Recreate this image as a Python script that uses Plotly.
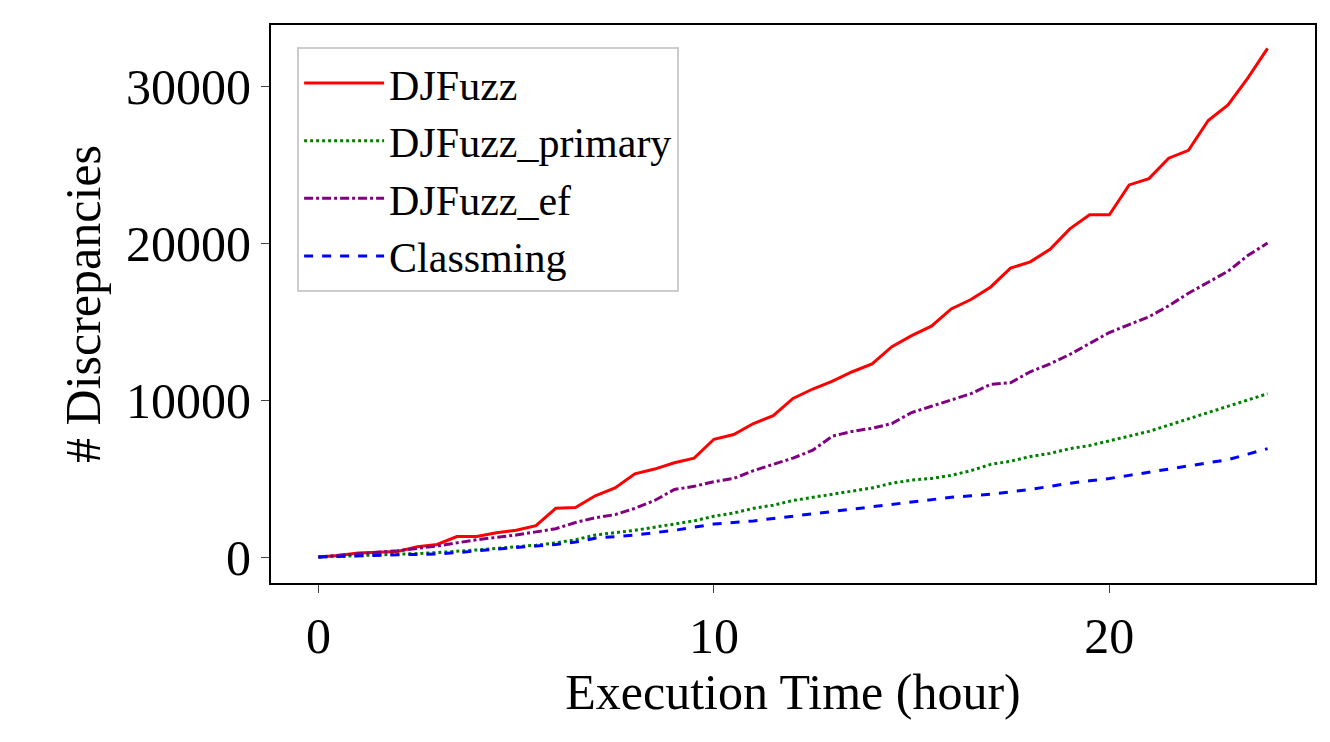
import plotly.graph_objects as go

hours = [i * 0.5 for i in range(49)]

djfuzz = [0, 100, 250, 280, 350, 650, 800, 1300, 1300, 1550, 1700, 2000, 3100, 3150, 3900, 4400,
          5300, 5600, 6000, 6300, 7500, 7800, 8500, 9000, 10100, 10700, 11200, 11800, 12300, 13400, 14100, 14700,
          15800, 16400, 17200, 18400, 18800, 19600, 20900, 21800, 21800, 23700, 24100, 25400, 25900, 27800, 28800, 30500,
          32400]
djfuzz_primary = [0, 40, 80, 120, 150, 220, 280, 350, 450, 550, 650, 750, 900, 1100, 1400, 1550,
                  1700, 1900, 2100, 2300, 2600, 2800, 3100, 3300, 3600, 3800, 4000, 4200, 4400, 4700, 4900, 5000,
                  5200, 5500, 5900, 6100, 6400, 6600, 6900, 7100, 7400, 7700, 8000, 8400, 8800, 9200, 9600, 10000,
                  10400]
djfuzz_ef = [0, 80, 200, 300, 400, 550, 700, 900, 1100, 1250, 1400, 1600, 1800, 2200, 2500, 2700,
             3100, 3600, 4300, 4500, 4800, 5000, 5500, 5900, 6300, 6800, 7700, 8000, 8200, 8500, 9200, 9600,
             10000, 10400, 11000, 11100, 11800, 12300, 12900, 13600, 14300, 14800, 15300, 16000, 16800, 17500, 18200, 19200,
             20000]
classming = [0, 30, 60, 80, 100, 150, 200, 280, 400, 500, 600, 700, 800, 950, 1200, 1300,
             1400, 1550, 1700, 1900, 2100, 2200, 2300, 2450, 2600, 2750, 2900, 3050, 3200, 3350, 3500, 3650,
             3800, 3900, 4000, 4150, 4300, 4500, 4700, 4850, 5000, 5200, 5400, 5600, 5800, 6000, 6200, 6550,
             6900]

y_ticks = [0, 10000, 20000, 30000]

series = [
    ("DJFuzz", djfuzz, "red", "solid"),
    ("DJFuzz_primary", djfuzz_primary, "green", "dot"),
    ("DJFuzz_ef", djfuzz_ef, "purple", "dashdot"),
    ("Classming", classming, "blue", "dash"),
]

fig = go.Figure()
for name, vals, color, dash in series:
    fig.add_trace(go.Scatter(x=hours, y=vals, mode="lines", name=name,
                             line=dict(color=color, dash=dash, width=3)))

fig.update_layout(
    width=1330, height=742,
    margin=dict(l=263, r=23, t=17, b=167),
    plot_bgcolor="white", paper_bgcolor="white",
    font=dict(family="Liberation Serif", color="black"),
    showlegend=True,
    legend=dict(x=0.025, y=0.96, xanchor="left", yanchor="top",
                font=dict(size=42), bgcolor="white", itemwidth=80,
                bordercolor="#cccccc", borderwidth=2),
)
fig.update_xaxes(range=[-1.2, 25.2], tickvals=[0, 10, 20], ticks="outside", ticklen=8,
                 tickfont=dict(size=50), showgrid=False, zeroline=False,
                 showline=True, linecolor="black", mirror=True, linewidth=2,
                 title=dict(text="Execution Time (hour)", font=dict(size=50), standoff=10))
fig.update_yaxes(range=[-1656, 33885], tickvals=y_ticks, ticktext=[str(v) for v in y_ticks],
                 ticks="outside", ticklen=8,
                 tickfont=dict(size=50), showgrid=False, zeroline=False,
                 showline=True, linecolor="black", mirror=True, linewidth=2,
                 title=dict(text="# Discrepancies", font=dict(size=50), standoff=10))

fig.write_html("out.html")
